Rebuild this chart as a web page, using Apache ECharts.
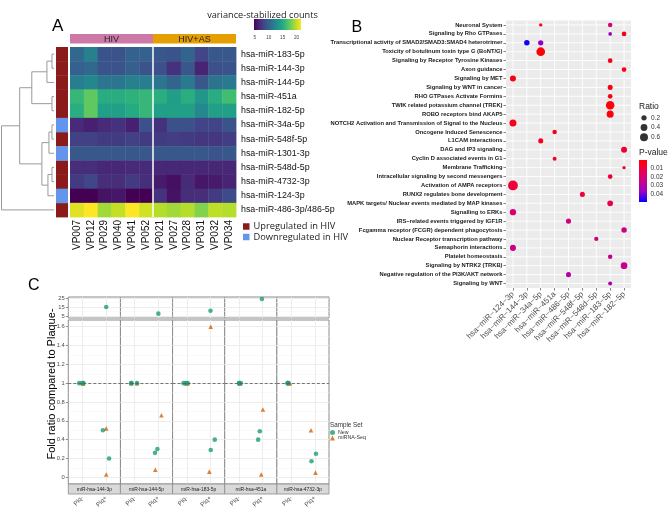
<!DOCTYPE html>
<html>
<head>
<meta charset="utf-8">
<script src="https://cdn.jsdelivr.net/npm/echarts@6.0.0/dist/echarts.min.js"></script>
<style>
html,body{margin:0;padding:0;background:#fff;}
#main{position:absolute;left:0;top:0;width:669px;height:509px;}
#panelB{position:absolute;left:330px;top:0;width:339px;height:509px;}
</style>
</head>
<body>
<div id="main"></div>
<div id="panelB"></div>
<script>
/* ================= Panel A data ================= */
const samples = ['VP007','VP012','VP029','VP040','VP041','VP052','VP021','VP027','VP028','VP031','VP032','VP034'];
const groupNames = ['HIV', 'HIV+AS'];
const groupSizes = [6, 6];
const mirnas = ['hsa-miR-183-5p','hsa-miR-144-3p','hsa-miR-144-5p','hsa-miR-451a','hsa-miR-182-5p','hsa-miR-34a-5p',
  'hsa-miR-548f-5p','hsa-miR-1301-3p','hsa-miR-548d-5p','hsa-miR-4732-3p','hsa-miR-124-3p','hsa-miR-486-3p/486-5p'];
const regulation = ['up','up','up','up','up','down','up','down','up','up','down','up'];
const regulationNames = ['Upregulated in HIV', 'Downregulated in HIV'];
const vsdCounts = [
  [10.4,12.0, 9.1, 9.1, 9.9, 9.9,  9.3, 9.1,10.1, 8.2, 9.3, 9.3],
  [ 9.9,10.4, 9.1, 9.1, 9.8, 9.1,  8.8, 7.1, 9.3, 6.4, 8.8, 9.1],
  [11.8,12.5,11.3,11.3,12.1,11.8, 11.3,10.1,11.6, 9.3,11.1,11.6],
  [15.9,17.4,15.2,15.2,15.5,15.9, 15.3,14.0,15.3,13.5,15.2,16.4],
  [15.3,17.4,14.2,14.2,15.0,15.9, 14.2,14.2,14.2,12.6,14.2,14.2],
  [ 6.7, 6.2, 6.7, 7.1, 6.2, 8.8,  7.1, 8.8, 8.8, 8.1, 8.1, 9.1],
  [ 7.9, 7.9, 7.6, 7.6, 7.9, 7.6,  7.6, 7.7, 7.6, 7.4, 7.4, 7.7],
  [ 9.3, 9.3, 9.3, 9.3, 9.3, 9.3,  9.3, 9.3, 9.3, 9.3, 9.1, 9.3],
  [ 6.9, 6.9, 6.6, 6.6, 6.7, 6.7,  6.6, 6.6, 6.6, 6.6, 6.6, 6.6],
  [ 7.6, 8.2, 6.9, 6.9, 7.6, 6.9,  5.9, 5.4, 6.7, 5.7, 5.9, 6.4],
  [ 4.7, 4.7, 5.5, 5.7, 4.7, 4.7,  7.2, 5.5, 6.9, 6.9, 7.6, 8.6],
  [20.8,21.6,19.2,20.1,21.6,20.4, 19.7,19.2,19.7,18.4,19.9,19.7]
];
// hclust-style merges: negative = leaf (row index + 1), positive = earlier merge; [left, right, height]
const dendroMerges = [[-1,-2,2],[1,-3,7],[-4,-5,2],[2,3,22],[-6,-7,2],[5,-8,5],[-9,-10,2],[7,-11,6],[6,8,12],[4,9,34],[10,-12,52]];
const vsdRange = [4.7, 21.6];
const vsdTicks = [5, 10, 15, 20];

/* ================= Panel B data ================= */
const pathways = ['Neuronal System','Signaling by Rho GTPases','Transcriptional activity of SMAD2/SMAD3:SMAD4 heterotrimer',
  'Toxicity of botulinum toxin type G (BoNT/G)','Signaling by Receptor Tyrosine Kinases','Axon guidance','Signaling by MET',
  'Signaling by WNT in cancer','RHO GTPases Activate Formins','TWIK related potassium channel (TREK)','ROBO receptors bind AKAP5',
  'NOTCH2 Activation and Transmission of Signal to the Nucleus','Oncogene Induced Senescence','L1CAM interactions',
  'DAG and IP3 signaling','Cyclin D associated events in G1','Membrane Trafficking','Intracellular signaling by second messengers',
  'Activation of AMPA receptors','RUNX2 regulates bone development','MAPK targets/ Nuclear events mediated by MAP kinases',
  'Signalling to ERKs','IRS\u2212related events triggered by IGF1R','Fcgamma receptor (FCGR) dependent phagocytosis',
  'Nuclear Receptor transcription pathway','Semaphorin interactions','Platelet homeostasis','Signaling by NTRK2 (TRKB)',
  'Negative regulation of the PI3K/AKT network','Signaling by WNT'];
const mirnaB = ['hsa\u2212miR\u2212124\u22123p','hsa\u2212miR\u2212144\u22123p','hsa\u2212miR\u221234a\u22125p','hsa\u2212miR\u2212451a',
  'hsa\u2212miR\u2212486\u22125p','hsa\u2212miR\u2212548f\u22125p','hsa\u2212miR\u2212548d\u22125p','hsa\u2212miR\u2212183\u22125p','hsa\u2212miR\u2212182\u22125p'];
// [pathway index, miRNA index, ratio, p-value]
const enrichment = [
  [0,2,0.043,0.003],[0,7,0.125,0.021],[1,7,0.066,0.036],[1,8,0.143,0.004],[2,1,0.226,0.048],[2,2,0.204,0.038],
  [3,2,0.75,0.002],[4,7,0.143,0.004],[5,8,0.143,0.003],[6,0,0.288,0.003],[7,7,0.172,0.003],[8,7,0.143,0.003],
  [9,7,0.71,0.002],[10,7,0.434,0.002],[11,0,0.434,0.004],[12,3,0.125,0.005],[13,2,0.172,0.005],[14,8,0.288,0.008],
  [15,3,0.086,0.006],[16,8,0.043,0.006],[17,7,0.143,0.009],[18,0,1.0,0.009],[19,5,0.172,0.010],[20,7,0.25,0.012],
  [21,0,0.33,0.020],[22,4,0.172,0.022],[23,8,0.226,0.024],[24,6,0.108,0.024],[25,0,0.288,0.024],[26,7,0.125,0.026],
  [27,8,0.387,0.026],[28,4,0.172,0.030],[29,7,0.086,0.032]
];
const ratioBreaks = [0.2, 0.4, 0.6];
const pRange = [0.0002, 0.0495];
const pBreaks = [0.01, 0.02, 0.03, 0.04];

/* ================= Panel C data ================= */
const facets = ['miR-hsa-144-3p','miR-hsa-144-5p','miR-hsa-183-5p','miR-hsa-451a','miR-hsa-4732-3p'];
const conditions = ['Plq-', 'Plq+'];
// [condition index, jitter, fold ratio]
const newSet = [
  [[0,-0.14,1],[0,0.0,1],[0,0.04,1],[1,0.0,15],[1,-0.14,0.5],[1,0.12,0.2]],
  [[0,-0.15,1],[0,0.1,1],[0,-0.13,1],[1,0.0,7.6],[1,-0.14,0.26],[1,-0.04,0.3]],
  [[0,-0.14,1],[0,-0.04,1],[0,0.04,1],[1,0.0,10.9],[1,0.01,0.29],[1,0.18,0.4]],
  [[0,0.0,1],[0,0.02,1],[0,0.08,1],[1,-0.03,23.9],[1,-0.12,0.49],[1,-0.19,0.4]],
  [[0,-0.15,1],[0,-0.12,1],[0,-0.14,1],[1,-0.14,0.17],[1,0.05,0.25]]
];
const seqSet = [
  [[0,0.01,1],[0,0.03,1],[1,0.0,0.52],[1,0.0,0.03]],
  [[0,0.1,1],[0,-0.14,1],[1,0.13,0.66],[1,-0.13,0.08]],
  [[0,-0.03,1],[0,0.03,1],[1,0.01,1.6],[1,-0.05,0.06]],
  [[0,0.05,1],[0,0.03,1],[1,0.01,0.72],[1,-0.06,0.03]],
  [[0,-0.09,1],[0,-0.05,1],[1,-0.16,0.5],[1,0.03,0.05]]
];
const refLevel = 1;
const topRange = [2.78, 26.1];
const topMajor = [5, 15, 25];
const topMinor = [10, 20];
const botRange = [-0.071, 1.671];
const botMajor = [0, 0.2, 0.4, 0.6, 0.8, 1, 1.2, 1.4, 1.6];
const botMinor = [0.1, 0.3, 0.5, 0.7, 0.9, 1.1, 1.3, 1.5];

/* ================= styles ================= */
const FONT = '"Liberation Sans", Arial, sans-serif';
const FONT2 = '"Open Sans", "Liberation Sans", sans-serif';
const VIRIDIS = ['#440154','#482475','#414487','#355f8d','#2a788e','#21918c','#22a884','#44bf70','#7ad151','#bddf26','#fde725'];
const P_COLORS = ['#ff0000','#e8004f','#ca0089','#9a00c3','#0000ff'];
const GROUP_COLORS = ['#CC79A7','#E69F00'];
const REG_COLORS = {up:'#8B1A1A', down:'#6495ED'};
const GREEN = '#1b9e77', ORANGE = '#d95f02';
const stops = arr => arr.map((c,i)=>({offset:i/(arr.length-1), color:c}));
const gridBase = {containLabel:false, outerBoundsMode:'none'};

/* ================= main chart (A + C) ================= */
const chart = echarts.init(document.getElementById('main'), null, {renderer:'canvas'});
const grids = [], xAxes = [], yAxes = [], series = [];
const addGrid = g => grids.push(Object.assign({}, gridBase, g)) - 1;
const addX = a => xAxes.push(a) - 1;
const addY = a => yAxes.push(a) - 1;
const hidden = {show:false};

// --- heatmap ---
const gHeat = addGrid({left:70, top:47, width:166, height:170});
const xHeat = addX({gridIndex:gHeat, type:'category', data:samples, axisLine:hidden, axisTick:hidden, splitLine:hidden,
  axisLabel:{interval:0, rotate:90, fontSize:10, margin:3, color:'#111', fontFamily:FONT}});
const yHeat = addY({gridIndex:gHeat, type:'category', data:mirnas, inverse:true, position:'right', axisLine:hidden, axisTick:hidden, splitLine:hidden,
  axisLabel:{interval:0, fontSize:8.9, margin:5, color:'#111', fontFamily:FONT}});
const heatData = [];
vsdCounts.forEach((row, r) => row.forEach((v, c) => heatData.push([c, r, v])));
series.push({type:'custom', xAxisIndex:xHeat, yAxisIndex:yHeat, data:heatData, encode:{x:0, y:1}, silent:true,
  renderItem:(p, api) => {
    const c = api.coord([api.value(0), api.value(1)]); const s = api.size([1, 1]);
    return {type:'rect', shape:{x:c[0]-s[0]/2, y:c[1]-s[1]/2, width:s[0]+0.4, height:s[1]+0.4}, style:{fill:api.visual('color')}};
  }});
const heatSeriesIdx = series.length - 1;
const groupStarts = groupSizes.map((s, i) => groupSizes.slice(0, i).reduce((a, b) => a + b, 0));
series.push({type:'custom', xAxisIndex:xHeat, yAxisIndex:yHeat, data:groupStarts.slice(1).map(s => [s, 0]), encode:{x:0, y:1}, silent:true, z:5,
  renderItem:(p, api) => {
    const c = api.coord([api.value(0), 0]); const s = api.size([1, 1]); const x = c[0] - s[0]/2;
    return {type:'line', shape:{x1:x, y1:p.coordSys.y, x2:x, y2:p.coordSys.y + p.coordSys.height}, style:{stroke:'#fff', lineWidth:1.5}};
  }});

// --- column group header ---
const gHead = addGrid({left:70, top:34, width:166, height:9.5});
const xHead = addX({gridIndex:gHead, type:'category', data:samples, show:false});
const yHead = addY({gridIndex:gHead, type:'value', min:0, max:1, show:false});
series.push({type:'custom', xAxisIndex:xHead, yAxisIndex:yHead, silent:true,
  data:groupNames.map((n, i) => [groupStarts[i], groupStarts[i] + groupSizes[i] - 1, i, 0.5]), encode:{x:[0, 1], y:3},
  renderItem:(p, api) => {
    const i = api.value(2); const s = api.size([1, 1]);
    const x0 = api.coord([api.value(0), 0.5])[0] - s[0]/2, x1 = api.coord([api.value(1), 0.5])[0] + s[0]/2;
    const cs = p.coordSys;
    return {type:'group', children:[
      {type:'rect', shape:{x:x0, y:cs.y, width:x1-x0, height:cs.height}, style:{fill:GROUP_COLORS[i]}},
      {type:'text', x:(x0+x1)/2, y:cs.y+cs.height/2+0.5, style:{text:groupNames[i], align:'center', verticalAlign:'middle',
        textAlign:'center', textVerticalAlign:'middle', fontSize:9, fontFamily:FONT, fill:'#222'}}]};
  }});

// --- row annotation ---
const gAnn = addGrid({left:56, top:47, width:12, height:170});
const xAnn = addX({gridIndex:gAnn, type:'value', min:0, max:1, show:false});
const yAnn = addY({gridIndex:gAnn, type:'category', data:mirnas, inverse:true, show:false});
['up', 'down'].forEach((key, k) => {
  series.push({type:'custom', name:regulationNames[k], xAxisIndex:xAnn, yAxisIndex:yAnn, silent:true, itemStyle:{color:REG_COLORS[key]},
    data:regulation.map((r, i) => r === key ? [0.5, i] : null).filter(d => d), encode:{x:0, y:1},
    renderItem:(p, api) => {
      const c = api.coord([0.5, api.value(1)]); const s = api.size([1, 1]); const cs = p.coordSys;
      return {type:'rect', shape:{x:cs.x, y:c[1]-s[1]/2, width:cs.width, height:s[1]+0.4}, style:{fill:api.visual('color')}};
    }});
});

// --- dendrogram ---
const nodePos = [], nodeH = [], dendroSegs = [];
const posOf = id => id < 0 ? -id - 1 : nodePos[id - 1];
const hOf = id => id < 0 ? 0 : nodeH[id - 1];
dendroMerges.forEach(([a, b, h], i) => {
  const ya = posOf(a), yb = posOf(b);
  dendroSegs.push([hOf(a), ya, h, ya], [h, ya, h, yb], [hOf(b), yb, h, yb]);
  nodePos[i] = (ya + yb) / 2; nodeH[i] = h;
});
const dendroMax = Math.max(...nodeH) + 0.5;
const gDen = addGrid({left:1, top:47, width:53, height:170});
const xDen = addX({gridIndex:gDen, type:'value', min:0, max:dendroMax, inverse:true, show:false});
const yDen = addY({gridIndex:gDen, type:'value', min:-0.5, max:mirnas.length - 0.5, inverse:true, show:false});
series.push({type:'custom', xAxisIndex:xDen, yAxisIndex:yDen, data:dendroSegs, encode:{x:[0, 2], y:[1, 3]}, silent:true,
  renderItem:(p, api) => {
    const a = api.coord([api.value(0), api.value(1)]), b = api.coord([api.value(2), api.value(3)]);
    return {type:'line', shape:{x1:a[0], y1:a[1], x2:b[0], y2:b[1]}, style:{stroke:'#9a9a9a', lineWidth:1}};
  }});

// --- colour bar for heatmap ---
const gBar = addGrid({left:254, top:19, width:47, height:11});
const xBar = addX({gridIndex:gBar, type:'value', min:vsdRange[0], max:vsdRange[1], axisLine:hidden, axisTick:hidden, splitLine:hidden,
  axisLabel:{customValues:vsdTicks, fontSize:4.6, color:'#444', margin:5, fontFamily:FONT}});
const yBar = addY({gridIndex:gBar, type:'value', min:0, max:1, show:false});
series.push({type:'custom', xAxisIndex:xBar, yAxisIndex:yBar, data:[[vsdRange[0], 0]], silent:true,
  renderItem:(p, api) => {
    const cs = p.coordSys;
    return {type:'rect', shape:{x:cs.x, y:cs.y, width:cs.width, height:cs.height},
      style:{fill:{type:'linear', x:0, y:0, x2:1, y2:0, colorStops:stops(VIRIDIS)}}};
  }});

// --- Panel C ---
const cLeft = 68.3, cRight = 329, fW = (cRight - cLeft) / facets.length;
const BORDER = '#8c8c8c';
facets.forEach((fname, f) => {
  const left = cLeft + f * fW;
  // top (broken) panel
  const gT = addGrid({left, top:297, width:fW, height:21, show:true, borderColor:BORDER, borderWidth:1, backgroundColor:'#fff'});
  const xT = addX({gridIndex:gT, type:'value', min:0.4, max:2.6, axisLabel:hidden, axisLine:hidden,
    axisTick:{show:false, customValues:[1, 2]}, splitLine:{show:true, lineStyle:{color:'#ebebeb', width:0.9}}});
  const yT = addY({gridIndex:gT, type:'value', min:topRange[0], max:topRange[1], axisLine:hidden,
    axisLabel:{show:f === 0, customValues:topMajor, fontSize:5.8, color:'#4d4d4d', margin:3.5, fontFamily:FONT},
    axisTick:{show:f === 0, customValues:topMajor, length:2.5, lineStyle:{color:'#444', width:0.6}},
    splitLine:{show:true, lineStyle:{color:'#ebebeb', width:0.9}}});
  addY({gridIndex:gT, type:'value', min:topRange[0], max:topRange[1], position:'left', axisLine:hidden, axisLabel:hidden,
    axisTick:{show:false, customValues:topMinor}, splitLine:{show:true, lineStyle:{color:'#f4f4f4', width:0.5}}});
  // bottom panel
  const gB = addGrid({left, top:320, width:fW, height:164, show:true, borderColor:BORDER, borderWidth:1, backgroundColor:'#fff'});
  const xB = addX({gridIndex:gB, type:'value', min:0.4, max:2.6, axisLine:hidden,
    axisLabel:{customValues:[1, 2], formatter:v => conditions[Math.round(v) - 1], rotate:45, fontSize:6.2, color:'#4d4d4d', margin:13, fontFamily:FONT},
    axisTick:{show:false, customValues:[1, 2]}, splitLine:{show:true, lineStyle:{color:'#ebebeb', width:0.9}}});
  const yB = addY({gridIndex:gB, type:'value', min:botRange[0], max:botRange[1], axisLine:hidden,
    axisLabel:{show:f === 0, customValues:botMajor, fontSize:5.8, color:'#4d4d4d', margin:3.5, fontFamily:FONT},
    axisTick:{show:f === 0, customValues:botMajor, length:2.5, lineStyle:{color:'#444', width:0.6}},
    splitLine:{show:true, lineStyle:{color:'#ebebeb', width:0.9}}});
  addY({gridIndex:gB, type:'value', min:botRange[0], max:botRange[1], position:'left', axisLine:hidden, axisLabel:hidden,
    axisTick:{show:false, customValues:botMinor}, splitLine:{show:true, lineStyle:{color:'#f4f4f4', width:0.5}}});
  const toXY = d => [d[0] + 1 + d[1], d[2]];
  const inBot = d => d[2] <= botRange[1], inTop = d => d[2] >= topRange[0];
  series.push({type:'scatter', name:'miRNA-Seq', xAxisIndex:xB, yAxisIndex:yB, symbol:'triangle', symbolSize:4.6, silent:true,
    itemStyle:{color:ORANGE}, data:seqSet[f].filter(inBot).map(toXY), z:3});
  series.push({type:'scatter', name:'New', xAxisIndex:xB, yAxisIndex:yB, symbol:'circle', symbolSize:4.6, silent:true,
    itemStyle:{color:GREEN}, data:newSet[f].filter(inBot).map(toXY), z:4,
    markLine:{silent:true, symbol:['none', 'none'], label:{show:false}, animation:false,
      lineStyle:{type:[3, 2], color:'#555', width:0.8}, data:[{yAxis:refLevel}]}});
  series.push({type:'scatter', name:'New', xAxisIndex:xT, yAxisIndex:yT, symbol:'circle', symbolSize:4.6, silent:true,
    itemStyle:{color:GREEN}, data:newSet[f].filter(inTop).map(toXY), z:4});
  series.push({type:'scatter', name:'miRNA-Seq', xAxisIndex:xT, yAxisIndex:yT, symbol:'triangle', symbolSize:4.6, silent:true,
    itemStyle:{color:ORANGE}, data:seqSet[f].filter(inTop).map(toXY), z:3});
});
// band between broken panels
const gSep = addGrid({left:cLeft, top:318, width:cRight - cLeft, height:2, show:true, backgroundColor:'#c4c4c4', borderWidth:0});
addX({gridIndex:gSep, type:'value', show:false}); addY({gridIndex:gSep, type:'value', show:false});
// facet strips
const gStrip = addGrid({left:cLeft, top:484, width:cRight - cLeft, height:10});
const xStrip = addX({gridIndex:gStrip, type:'category', data:facets, show:false});
const yStrip = addY({gridIndex:gStrip, type:'value', min:0, max:1, show:false});
series.push({type:'custom', xAxisIndex:xStrip, yAxisIndex:yStrip, data:facets.map((n, i) => [i, 0.5]), encode:{x:0, y:1}, silent:true,
  renderItem:(p, api) => {
    const i = api.value(0); const c = api.coord([i, 0.5]); const s = api.size([1, 1]); const cs = p.coordSys;
    return {type:'group', children:[
      {type:'rect', shape:{x:c[0]-s[0]/2, y:cs.y, width:s[0], height:cs.height}, style:{fill:'#d9d9d9', stroke:BORDER, lineWidth:0.8}},
      {type:'text', x:c[0], y:cs.y + cs.height/2 + 0.3, style:{text:facets[i], align:'center', verticalAlign:'middle',
        textAlign:'center', textVerticalAlign:'middle', fontSize:4.9, fontFamily:FONT, fill:'#1a1a1a'}}]};
  }});

const txt = (text, x, y, size, opts) => Object.assign({type:'text', x, y, silent:true,
  style:Object.assign({text, fontSize:size, fontFamily:FONT, fill:'#000', align:'left', verticalAlign:'middle',
    textAlign:'left', textVerticalAlign:'middle'}, (opts && opts.style) || {})}, (opts && opts.el) || {});

chart.setOption({
  animation:false,
  grid:grids, xAxis:xAxes, yAxis:yAxes, series,
  visualMap:[{type:'continuous', show:false, seriesIndex:heatSeriesIdx, dimension:2, min:vsdRange[0], max:vsdRange[1], inRange:{color:VIRIDIS}}],
  legend:[
    {data:regulationNames, icon:'rect', orient:'vertical', left:243, top:222, padding:0, itemWidth:6.5, itemHeight:6.5, itemGap:1.5,
      selectedMode:false, textStyle:{fontSize:9.3, fontFamily:FONT2, color:'#222', padding:[0, 0, 0, -1]}},
    {data:[{name:'New', icon:'circle'}, {name:'miRNA-Seq', icon:'triangle'}], orient:'vertical', left:330, top:430, padding:0,
      itemWidth:5, itemHeight:5, itemGap:0.5, selectedMode:false, textStyle:{fontSize:5.3, fontFamily:FONT, color:'#333', padding:[0, 0, 0, -2]}}
  ],
  graphic:[
    txt('A', 52, 26.5, 17),
    txt('variance-stabilized counts', 262.5, 15, 9.2, {style:{fontFamily:FONT2, align:'center', textAlign:'center', fill:'#222'}}),
    txt('C', 28, 285.5, 16),
    txt('Fold ratio compared to Plaque-', 52, 384, 11, {style:{align:'center', textAlign:'center'}, el:{rotation:Math.PI/2}}),
    txt('Sample Set', 330, 425.5, 6.3, {style:{fill:'#333'}})
  ]
});

/* ================= Panel B chart ================= */
const chartB = echarts.init(document.getElementById('panelB'), null, {renderer:'canvas'});
const sizeOf = r => 1.6 + 8.2 * Math.sqrt(r);
chartB.setOption({
  animation:false,
  grid:[
    Object.assign({left:176, top:20.5, width:125, height:267.5, show:true, backgroundColor:'#ebebeb', borderWidth:0}, gridBase),
    Object.assign({left:310, top:113, width:8, height:29}, gridBase),
    Object.assign({left:309, top:160, width:8, height:42}, gridBase)
  ],
  xAxis:[
    {gridIndex:0, type:'category', data:mirnaB, axisLine:hidden, splitLine:hidden,
      axisTick:{show:true, alignWithLabel:true, length:2.5, lineStyle:{color:'#333', width:0.6}},
      axisLabel:{interval:0, rotate:45, fontSize:8, color:'#4d4d4d', margin:5, fontFamily:FONT}},
    {gridIndex:1, type:'value', min:-1, max:1, show:false},
    {gridIndex:2, type:'value', min:0, max:1, show:false}
  ],
  yAxis:[
    {gridIndex:0, type:'category', data:pathways, inverse:true, axisLine:hidden, splitLine:hidden,
      axisTick:{show:true, alignWithLabel:true, length:2.5, lineStyle:{color:'#333', width:0.6}},
      axisLabel:{interval:0, fontSize:5.8, fontWeight:'bold', color:'#1a1a1a', margin:3.5, fontFamily:FONT}},
    {gridIndex:1, type:'category', data:ratioBreaks.map(String), inverse:true, position:'right', axisLine:hidden, axisTick:hidden, splitLine:hidden,
      axisLabel:{fontSize:6.5, color:'#333', margin:3, fontFamily:FONT}},
    {gridIndex:2, type:'value', min:pRange[0], max:pRange[1], inverse:true, position:'right', axisLine:hidden, splitLine:hidden,
      axisTick:{show:true, inside:true, customValues:pBreaks, length:1.6, lineStyle:{color:'#fff', width:0.6}},
      axisLabel:{customValues:pBreaks, formatter:v => v.toFixed(2), fontSize:6.5, color:'#333', margin:3.5, fontFamily:FONT}}
  ],
  visualMap:[{type:'continuous', show:false, seriesIndex:2, dimension:3, min:pRange[0], max:pRange[1], inRange:{color:P_COLORS}}],
  series:[
    {type:'custom', xAxisIndex:0, yAxisIndex:0, silent:true, data:mirnaB.map((m, i) => [i, 0]), encode:{x:0, y:1},
      renderItem:(p, api) => { const c = api.coord([api.value(0), 0]); const cs = p.coordSys;
        return {type:'line', shape:{x1:c[0], y1:cs.y, x2:c[0], y2:cs.y + cs.height}, style:{stroke:'#fff', lineWidth:0.9}}; }},
    {type:'custom', xAxisIndex:0, yAxisIndex:0, silent:true, data:pathways.map((m, i) => [0, i]), encode:{x:0, y:1},
      renderItem:(p, api) => { const c = api.coord([0, api.value(1)]); const cs = p.coordSys;
        return {type:'line', shape:{x1:cs.x, y1:c[1], x2:cs.x + cs.width, y2:c[1]}, style:{stroke:'#fff', lineWidth:0.9}}; }},
    {type:'scatter', xAxisIndex:0, yAxisIndex:0, silent:true, data:enrichment.map(d => [d[1], d[0], d[2], d[3]]), encode:{x:0, y:1},
      symbolSize:v => sizeOf(v[2]), itemStyle:{opacity:1}},
    {type:'scatter', xAxisIndex:1, yAxisIndex:1, silent:true, data:ratioBreaks.map((r, i) => [0, i, r]), encode:{x:0, y:1},
      symbolSize:v => sizeOf(v[2]), itemStyle:{color:'#000'}},
    {type:'custom', xAxisIndex:2, yAxisIndex:2, silent:true, data:[[0.5, pRange[0]]], encode:{x:0, y:1},
      renderItem:(p, api) => { const cs = p.coordSys;
        return {type:'rect', shape:{x:cs.x, y:cs.y, width:cs.width, height:cs.height},
          style:{fill:{type:'linear', x:0, y:0, x2:0, y2:1, colorStops:stops(P_COLORS)}}}; }}
  ],
  graphic:[
    txt('B', 21.5, 27.5, 16),
    txt('Ratio', 309, 107, 8.5, {style:{fill:'#1a1a1a'}}),
    txt('P-value', 309, 153, 8.5, {style:{fill:'#1a1a1a'}})
  ]
});
</script>
</body>
</html>
